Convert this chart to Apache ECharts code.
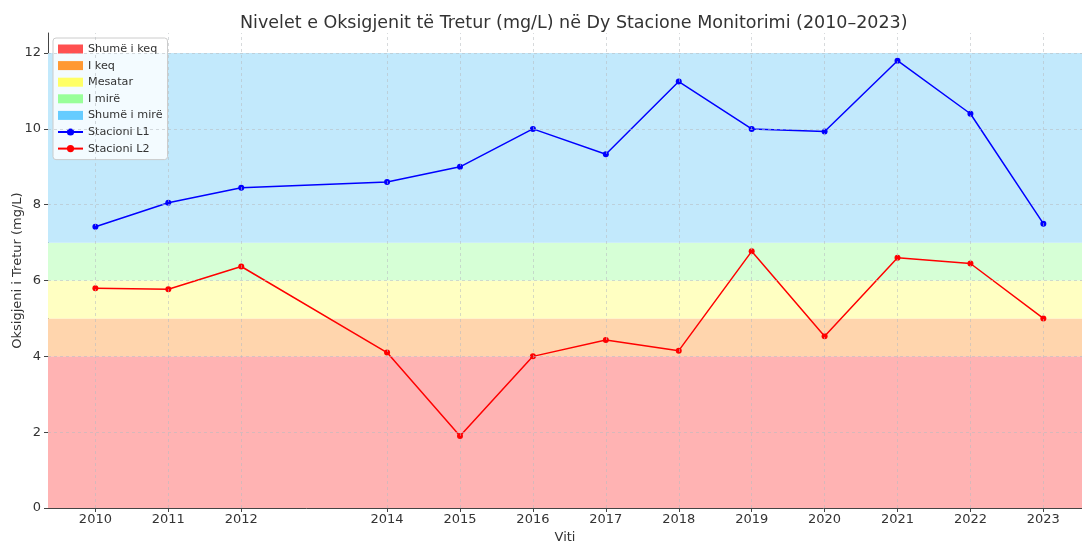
<!DOCTYPE html>
<html>
<head>
<meta charset="utf-8">
<script src="https://cdn.jsdelivr.net/npm/echarts@6/dist/echarts.min.js"></script>
<style>
  html, body { margin: 0; padding: 0; background: #fff; }
  #chart { width: 1082px; height: 542px; }
</style>
</head>
<body>
<div id="chart"></div>
<script>
// data
const years = [2010, 2011, 2012, 2014, 2015, 2016, 2017, 2018, 2019, 2020, 2021, 2022, 2023]
const stacioniL1 = [7.42, 8.05, 8.45, 8.6, 9.0, 10.0, 9.33, 11.25, 10.0, 9.93, 11.8, 10.4, 7.5]
const stacioniL2 = [5.8, 5.77, 6.37, 4.1, 1.9, 4.0, 4.43, 4.15, 6.77, 4.53, 6.6, 6.45, 5.0]
const bandNames = ['Shumë i keq', 'I keq', 'Mesatar', 'I mirë', 'Shumë i mirë']
const bandFrom = [0, 4, 5, 6, 7]
const bandTo = [4, 5, 6, 7, 12]
const yTicks = [0, 2, 4, 6, 8, 10, 12]

// styles
const bandLegendColors = ['#ff5050', '#ff9933', '#ffff66', '#99ff99', '#66ccff']
const bandFillColors = ['#ffb3b3', '#ffd5ad', '#ffffc2', '#d6ffd6', '#c2e9fc']
const font = 'DejaVu Sans'

const chart = echarts.init(document.getElementById('chart'))

const bandSeries = bandNames.map((name, i) => ({
  name: name,
  type: 'line',
  data: [],
  z: 1,
  itemStyle: { color: bandLegendColors[i] },
  lineStyle: { color: bandLegendColors[i] },
  markArea: {
    silent: true,
    itemStyle: { color: bandFillColors[i] },
    data: [[{ yAxis: bandFrom[i] }, { yAxis: bandTo[i] }]]
  }
}))

const gridSeries = {
  name: 'grid',
  type: 'line',
  data: [],
  z: 2,
  markLine: {
    silent: true,
    symbol: 'none',
    label: { show: false },
    lineStyle: { color: '#b8bcc0', type: [3, 3], width: 0.8, opacity: 0.7 },
    data: years.map(y => ({ xAxis: y })).concat(yTicks.slice(1).map(v => ({ yAxis: v })))
  }
}

function stationSeries (name, values, color) {
  return {
    name: name,
    type: 'line',
    z: 3,
    data: years.map((y, i) => [y, values[i]]),
    symbol: 'circle',
    symbolSize: 6,
    itemStyle: { color: color },
    lineStyle: { color: color, width: 1.5 }
  }
}

chart.setOption({
  animation: false,
  textStyle: { fontFamily: font },
  title: {
    text: 'Nivelet e Oksigjenit të Tretur (mg/L) në Dy Stacione Monitorimi (2010–2023)',
    left: 235,
    top: 9,
    textStyle: { fontFamily: font, fontSize: 17.5, fontWeight: 'normal', color: '#333' }
  },
  legend: {
    orient: 'vertical',
    left: 53,
    top: 38,
    padding: [5, 5, 5, 4],
    itemGap: 4.6,
    itemWidth: 25,
    itemHeight: 9,
    backgroundColor: 'rgba(255,255,255,0.8)',
    borderColor: '#cccccc',
    borderWidth: 1,
    borderRadius: 3,
    textStyle: { fontFamily: font, fontSize: 11.2, color: '#333', lineHeight: 12 },
    data: bandNames.map(n => ({ name: n, icon: 'rect' })).concat(['Stacioni L1', 'Stacioni L2'])
  },
  grid: { left: 48, right: 0, top: 33, bottom: 34, outerBoundsMode: 'none' },
  xAxis: {
    type: 'value',
    min: 2009.35,
    max: 2023.53,
    name: 'Viti',
    nameLocation: 'middle',
    nameGap: 21,
    nameTextStyle: { fontFamily: font, fontSize: 13, color: '#333' },
    axisLine: { show: true, lineStyle: { color: '#444', width: 1 } },
    axisTick: { show: true, customValues: years, length: 4, lineStyle: { color: '#444' } },
    axisLabel: {
      customValues: years,
      formatter: v => String(v),
      fontFamily: font, fontSize: 13, color: '#333', margin: 5
    },
    splitLine: { show: false }
  },
  yAxis: {
    type: 'value',
    min: 0,
    max: 12.53,
    name: 'Oksigjeni i Tretur (mg/L)',
    nameLocation: 'middle',
    nameGap: 24,
    nameMoveOverlap: false,
    nameTextStyle: { fontFamily: font, fontSize: 13, color: '#333' },
    axisLine: { show: true, lineStyle: { color: '#444', width: 1 } },
    axisTick: { show: true, customValues: yTicks, length: 4, lineStyle: { color: '#444' } },
    axisLabel: { customValues: yTicks, fontFamily: font, fontSize: 13, color: '#333', margin: 7 },
    splitLine: { show: false }
  },
  series: bandSeries.concat([
    gridSeries,
    stationSeries('Stacioni L1', stacioniL1, '#0000ff'),
    stationSeries('Stacioni L2', stacioniL2, '#ff0000')
  ])
})
</script>
</body>
</html>
